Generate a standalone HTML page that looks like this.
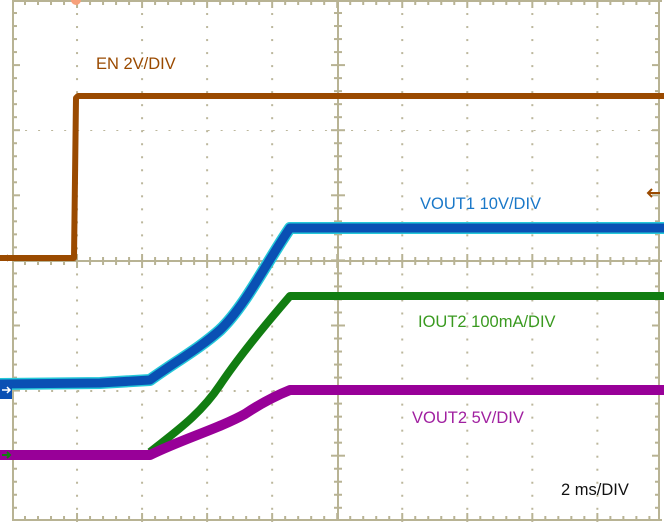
<!DOCTYPE html>
<html><head><style>
html,body{margin:0;padding:0;background:#fff;}
svg{display:block;}
text{font-family:"Liberation Sans",sans-serif;font-size:16.5px;}
</style></head><body>
<svg width="664" height="522" viewBox="0 0 664 522" xmlns="http://www.w3.org/2000/svg">
<defs>
<pattern id="dh" x="12" y="0" width="13.04" height="10" patternUnits="userSpaceOnUse"><rect x="0" y="0" width="2" height="2" fill="#bcb79c"/></pattern>
</defs>
<g>
<rect x="12" y="64" width="650" height="2" fill="url(#dh)"/>
<rect x="12" y="129" width="650" height="2" fill="url(#dh)"/>
<rect x="12" y="194" width="650" height="2" fill="url(#dh)"/>
<rect x="12" y="325" width="650" height="2" fill="url(#dh)"/>
<rect x="12" y="390" width="650" height="2" fill="url(#dh)"/>
<rect x="12" y="455" width="650" height="2" fill="url(#dh)"/>
</g>
<g id="vd" fill="#bcb79c"></g>
<g stroke="#b8b394" stroke-width="2" fill="none">
<line x1="13" y1="0" x2="13" y2="521"/>
<line x1="12" y1="520" x2="662" y2="520"/>
<line x1="12" y1="1" x2="662" y2="1"/>
<line x1="659" y1="0" x2="659" y2="521"/>
<line x1="338" y1="0" x2="338" y2="521"/>
<line x1="12" y1="261" x2="662" y2="261"/>
</g>
<g id="ticks" stroke="#b8b394" stroke-width="2"></g>
<script>
var ns="http://www.w3.org/2000/svg";
var vd=document.getElementById('vd'),tk=document.getElementById('ticks');
function r(g,x,y,w,h){var e=document.createElementNS(ns,'rect');e.setAttribute('x',x);e.setAttribute('y',y);e.setAttribute('width',w);e.setAttribute('height',h);g.appendChild(e);}
function l(x1,y1,x2,y2){var e=document.createElementNS(ns,'line');e.setAttribute('x1',x1);e.setAttribute('y1',y1);e.setAttribute('x2',x2);e.setAttribute('y2',y2);tk.appendChild(e);}
var dx=65.04,dy=65.1;
for(var i=1;i<10;i++){if(i==5)continue;var x=12+i*dx;for(var y=0;y<521;y+=dy/5)r(vd,x-1,y,2,2);}
for(var k=1;k<50;k++){var x=12+k*dx/5,len=(k%5==0)?7:4;
 l(x,261-len,x,261+len);l(x,520,x,520-len);l(x,1,x,1+len);}
for(var k=1;k<40;k++){var y=k*dy/5,len=(k%5==0)?7:4;
 l(338-len,y,338+len,y);l(13,y,13+len,y);l(659,y,659-len,y);}
</script>
<!-- EN -->
<path d="M0,258 L74,258 L76,98 L78,96 L664,96" stroke="#9a4a00" stroke-width="6" fill="none" stroke-linejoin="round"/>
<!-- VOUT1 -->
<path d="M0,384 L100,383 L150,380 C175,362 200,348 220,330 C245,306 265,265 290,228 L664,228" stroke="#25c8d8" stroke-width="12" fill="none" stroke-linejoin="round"/>
<path d="M0,384 L100,383 L150,380 C175,362 200,348 220,330 C245,306 265,265 290,228 L664,228" stroke="#0a50b4" stroke-width="9" fill="none" stroke-linejoin="round"/>
<!-- IOUT2 -->
<path d="M150,452 C175,432 200,415 220,385 C240,355 265,325 290,296 L664,296" stroke="#117d11" stroke-width="8" fill="none" stroke-linejoin="round"/>
<!-- VOUT2 -->
<path d="M0,455 L150,455 C180,440 220,428 245,414 C260,404 275,396 290,390 L664,390" stroke="#980098" stroke-width="10" fill="none" stroke-linejoin="round"/>
<!-- markers -->
<rect x="0" y="380" width="12" height="19" fill="#0a50b4"/>
<path d="M2,390 L10,390 M7,387 L10,390 L7,393" stroke="#fff" stroke-width="1.5" fill="none"/>
<path d="M2,258 L10,258 M7,255 L10,258 L7,261" stroke="#9a4a00" stroke-width="1.5" fill="none"/>
<path d="M2,455 L10,455 M7,452 L10,455 L7,458" stroke="#117d11" stroke-width="2" fill="none"/>
<path d="M660,193 L648,193 M652,189 L648,193 L652,197" stroke="#9a4a00" stroke-width="2" fill="none"/>
<circle cx="76" cy="0" r="5" fill="#f7a07a"/>
<text x="96" y="69" fill="#9a4a00">EN 2V/DIV</text>
<text x="420" y="209" fill="#1a78c8">VOUT1 10V/DIV</text>
<text x="418" y="327" fill="#3a9a20">IOUT2 100mA/DIV</text>
<text x="412" y="423" fill="#a020a0">VOUT2 5V/DIV</text>
<text x="561" y="495" fill="#111">2 ms/DIV</text>
</svg>
</body></html>
